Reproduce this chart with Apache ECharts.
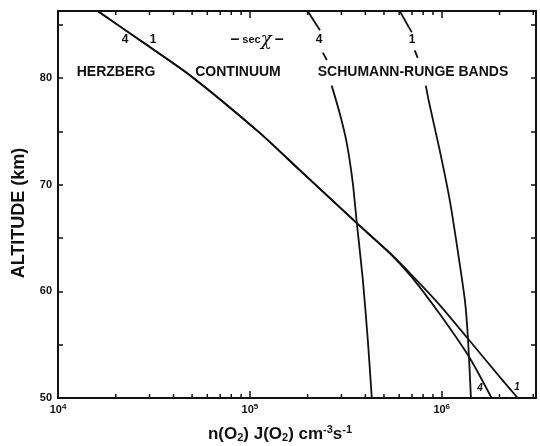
<!DOCTYPE html>
<html>
<head>
<meta charset="utf-8">
<script src="https://cdn.jsdelivr.net/npm/echarts@6/dist/echarts.min.js"></script>
<style>
    html, body {
        margin: 0;
        padding: 0;
        background: #fff;
    }
    #chart1 {
        width: 540px;
        height: 446px;
    }
</style>
</head>
<body>
<div id="chart1"></div>
<script>
    // altitude (km) vs n(O2)J(O2)
    // Herzberg continuum: the two sec(chi) curves share the upper part
    var herzberg1X = [1.61e4, 2.77e4, 4.87e4, 1.13e5, 1.82e5, 3.61e5, 5.36e5, 6.98e5, 9.77e5, 1.365e6, 2.00e6, 2.49e6];
    var herzberg1Alt = [86.3, 83.36, 80.27, 74.84, 71.37, 66.4, 63.6, 61.53, 58.72, 55.6, 52.0, 50];
    var herzberg4X = [1.61e4, 2.77e4, 4.87e4, 1.13e5, 1.82e5, 3.61e5, 5.36e5, 6.98e5, 9.77e5, 1.40e6, 1.82e6];
    var herzberg4Alt = [86.3, 83.36, 80.27, 74.84, 71.37, 66.4, 63.6, 61.34, 57.87, 53.75, 50];

    // Schumann-Runge, each curve in 3 pieces (broken round the labels)
    var sr4X = [[2.00e5, 2.32e5], [2.40e5, 2.52e5], [2.67e5, 2.94e5, 3.20e5, 3.44e5, 3.61e5, 3.88e5, 4.12e5, 4.32e5]];
    var sr4Alt = [[86.3, 84.5], [82.4, 81.7], [79.3, 76.7, 73.9, 70.15, 66.4, 61.1, 55.4, 50]];
    var sr1X = [[6.04e5, 6.98e5], [7.23e5, 7.50e5], [8.26e5, 8.55e5, 9.77e5, 1.10e6, 1.21e6, 1.32e6, 1.37e6, 1.42e6]];
    var sr1Alt = [[86.3, 84.3], [82.6, 81.9], [79.3, 77.9, 73.2, 68.6, 63.9, 59.2, 55.6, 50]];

    var altLabels = [50, 60, 70, 80];
    var decades = [4, 5, 6];

    var xMin = 1e4, xMax = 3.1e6, yMin = 50, yMax = 86.3;

    // 2..9 x each decade
    var minorTicks = [];
    decades.forEach(function (d) {
        for (var k = 2; k <= 9; k++) {
            var v = k * Math.pow(10, d);
            if (v < xMax) minorTicks.push(v);
        }
    });

    function pairs(xs, ys) {
        return xs.map(function (x, i) {
            return [x, ys[i]];
        });
    }

    var lineStyle = {color: '#111', width: 1.8};
    function curve(data) {
        return {
            type: 'line',
            data: data,
            showSymbol: false,
            symbol: 'none',
            smooth: 0.2,
            lineStyle: lineStyle,
            silent: true,
            animation: false,
            z: 3
        };
    }

    var series = [
        curve(pairs(herzberg1X, herzberg1Alt)),
        curve(pairs(herzberg4X, herzberg4Alt))
    ];
    for (var i = 0; i < 3; i++) {
        series.push(curve(pairs(sr4X[i], sr4Alt[i])));
        series.push(curve(pairs(sr1X[i], sr1Alt[i])));
    }

    // minor log ticks, bottom and top
    series.push({
        type: 'custom',
        data: minorTicks.map(function (v) { return [v]; }),
        silent: true,
        animation: false,
        renderItem: function (params, api) {
            var b = api.coord([api.value(0), yMin]);
            var t = api.coord([api.value(0), yMax]);
            var st = {stroke: '#111', lineWidth: 1.5};
            return {
                type: 'group',
                children: [
                    {type: 'line', shape: {x1: b[0], y1: b[1], x2: b[0], y2: b[1] - 4}, style: st},
                    {type: 'line', shape: {x1: t[0], y1: t[1], x2: t[0], y2: t[1] + 4}, style: st}
                ]
            };
        }
    });

    var labelFont = 'Liberation Sans';
    var bold = {fontFamily: labelFont, fontWeight: 'bold', color: '#111'};

    function txt(text, x, y, size, extra) {
        return {
            type: 'text',
            x: x,
            y: y,
            silent: true,
            style: Object.assign({
                text: text,
                fontFamily: labelFont,
                fontWeight: 'bold',
                fontSize: size,
                fill: '#111',
                align: 'center',
                verticalAlign: 'middle'
            }, extra || {})
        };
    }

    var chart1 = echarts.init(document.getElementById('chart1'));

    var option = {
        backgroundColor: '#fff',
        animation: false,
        grid: {
            left: 58,
            right: 4,
            top: 11,
            bottom: 48,
            containLabel: false,
            outerBoundsMode: 'none'
        },
        xAxis: [
            {
                type: 'log',
                logBase: 10,
                min: xMin,
                max: xMax,
                position: 'bottom',
                axisLine: {show: true, onZero: false, lineStyle: {color: '#111', width: 2}},
                axisTick: {show: true, inside: true, length: 7, lineStyle: {color: '#111', width: 1.5}},
                splitLine: {show: false},
                axisLabel: {
                    margin: 5,
                    formatter: function (v) {
                        var p = Math.log10(v);
                        var r = Math.round(p);
                        if (Math.abs(p - r) > 1e-6 || decades.indexOf(r) < 0) return '';
                        return '{b|10}{s|' + r + '}';
                    },
                    rich: {
                        b: Object.assign({fontSize: 11}, bold),
                        s: Object.assign({fontSize: 8, verticalAlign: 'top', padding: [0, 0, 6, 0]}, bold)
                    }
                }
            },
            {
                type: 'log',
                logBase: 10,
                min: xMin,
                max: xMax,
                position: 'top',
                axisLine: {show: true, onZero: false, lineStyle: {color: '#111', width: 2}},
                axisTick: {show: true, inside: true, length: 7, lineStyle: {color: '#111', width: 1.5}},
                axisLabel: {show: false},
                splitLine: {show: false}
            }
        ],
        yAxis: [
            {
                type: 'value',
                min: yMin,
                max: yMax,
                interval: 5,
                position: 'left',
                axisLine: {show: true, onZero: false, lineStyle: {color: '#111', width: 2}},
                axisTick: {show: true, inside: true, length: 5, lineStyle: {color: '#111', width: 1.5}},
                splitLine: {show: false},
                axisLabel: Object.assign({
                    margin: 6,
                    fontSize: 11,
                    formatter: function (v) {
                        return altLabels.indexOf(v) >= 0 ? String(v) : '';
                    }
                }, bold)
            },
            {
                type: 'value',
                min: yMin,
                max: yMax,
                interval: 5,
                position: 'right',
                axisLine: {show: true, onZero: false, lineStyle: {color: '#111', width: 2}},
                axisTick: {show: true, inside: true, length: 5, lineStyle: {color: '#111', width: 1.5}},
                axisLabel: {show: false},
                splitLine: {show: false}
            }
        ],
        series: series,
        graphic: [
            txt('4', 125, 40, 12),
            txt('1', 153, 40, 12),
            txt('HERZBERG', 116, 72, 14),
            txt('CONTINUUM', 238, 72, 14),
            txt('SCHUMANN-RUNGE BANDS', 413, 72, 14),
            txt('{d|–} {s|sec}{c|χ} {d|–}', 257, 40, 11, {
                rich: {
                    d: {fontFamily: labelFont, fontWeight: 'bold', fontSize: 16, fill: '#111'},
                    s: {fontFamily: labelFont, fontWeight: 'bold', fontSize: 11, fill: '#111'},
                    c: {fontFamily: 'DejaVu Serif', fontStyle: 'italic', fontSize: 18, fill: '#111'}
                }
            }),
            txt('4', 319, 40, 12),
            txt('1', 412, 40, 12),
            txt('4', 480, 388, 10, {fontStyle: 'italic'}),
            txt('1', 517, 387, 10, {fontStyle: 'italic'}),
            txt('n(O{sub|2}) J(O{sub|2}) cm{sup|-3}s{sup|-1}', 280, 434, 17, {
                rich: {
                    sub: {fontFamily: labelFont, fontWeight: 'bold', fontSize: 11, fill: '#111', verticalAlign: 'bottom', padding: [8, 0, 0, 0]},
                    sup: {fontFamily: labelFont, fontWeight: 'bold', fontSize: 11, fill: '#111', verticalAlign: 'top', padding: [0, 0, 8, 0]}
                }
            }),
            Object.assign(txt('ALTITUDE (km)', 19, 213, 18), {rotation: Math.PI / 2})
        ]
    };

    chart1.setOption(option);
    window.addEventListener('resize', function () {
        chart1.resize();
    });
</script>
</body>
</html>
